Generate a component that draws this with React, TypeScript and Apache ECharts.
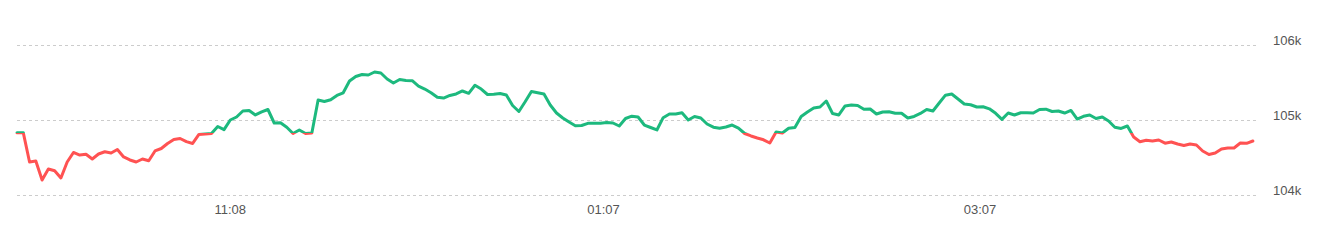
import React, { useEffect, useRef } from "react";
import * as echarts from "echarts";

// Price values, one every 2 minutes starting 10:00 PM
const prices: number[] = [
  104831, 104831, 104440, 104453, 104200, 104347, 104324, 104227, 104440, 104567,
  104533, 104543, 104480, 104547, 104577, 104560, 104607, 104507, 104467, 104440,
  104480, 104457, 104587, 104620, 104687, 104740, 104753, 104711, 104687, 104807,
  104813, 104820, 104913, 104871, 105000, 105040, 105120, 105127, 105067, 105107,
  105140, 104960, 104964, 104903, 104820, 104867, 104820, 104827, 105267, 105247,
  105269, 105327, 105363, 105520, 105580, 105607, 105600, 105640, 105627, 105547,
  105493, 105540, 105527, 105524, 105453, 105413, 105363, 105303, 105293, 105327,
  105347, 105387, 105356, 105463, 105413, 105340, 105343, 105353, 105333, 105193,
  105113, 105243, 105380, 105363, 105347, 105200, 105093, 105027, 104973, 104924,
  104927, 104956, 104956, 104956, 104967, 104960, 104920, 105020, 105051, 105040,
  104933, 104900, 104867, 105031, 105080, 105080, 105096, 105000, 105047, 105027,
  104947, 104904, 104891, 104907, 104933, 104893, 104820, 104787, 104760, 104736,
  104693, 104840, 104827, 104889, 104900, 105047, 105107, 105160, 105173, 105253,
  105087, 105067, 105187, 105200, 105193, 105143, 105147, 105080, 105107, 105111,
  105089, 105089, 105027, 105047, 105087, 105140, 105120, 105227, 105331, 105347,
  105280, 105213, 105203, 105173, 105176, 105149, 105089, 105009, 105093, 105067,
  105097, 105097, 105093, 105140, 105144, 105113, 105120, 105093, 105127, 105013,
  105049, 105067, 105020, 105040, 104987, 104903, 104887, 104920, 104773, 104711,
  104729, 104720, 104733, 104691, 104707, 104680, 104660, 104680, 104667, 104587,
  104540, 104560, 104613, 104627, 104627, 104693, 104689, 104720,
];

const startTime = new Date(2025, 0, 1, 22, 0, 0).getTime();
const stepMinutes = 2;
const spanMinutes = 395;
// minutes after start at which the x labels are shown (11:08, 01:07, 03:07)
const tickMinutes: number[] = [68, 187, 307];
const yTicks: number[] = [104000, 105000, 106000];

const UP = "#1db97e";
const DOWN = "#ff5252";

function fmtTime(minutes: number): string {
  const d = new Date(startTime + minutes * 60000);
  let h = d.getHours() % 12;
  if (h === 0) h = 12;
  const m = d.getMinutes();
  return String(h).padStart(2, "0") + ":" + String(m).padStart(2, "0");
}

export default function App() {
  const ref = useRef<HTMLDivElement>(null);
  useEffect(() => {
    if (!ref.current) return;
    const chart = echarts.init(ref.current, undefined, { renderer: "svg" });
    const base = prices[0];
    const data = prices.map((p, i) => [i * stepMinutes, p]);
    chart.setOption({
      animation: false,
      grid: { left: 17, right: 61, top: 45, bottom: 50 },
      xAxis: {
        type: "value",
        min: 0,
        max: spanMinutes,
        interval: 1,
        axisLine: { show: false },
        axisTick: { show: false },
        splitLine: { show: false },
        axisLabel: {
          formatter: (v: number) => {
            const r = Math.round(v);
            return tickMinutes.indexOf(r) >= 0 ? fmtTime(r) : "";
          },
          color: "#555",
          fontSize: 13,
          fontFamily: "Liberation Sans, Arial, sans-serif",
          margin: 8,
        },
      },
      yAxis: {
        type: "value",
        position: "right",
        min: yTicks[0],
        max: yTicks[yTicks.length - 1],
        interval: 1000,
        axisLine: { show: false },
        axisTick: { show: false },
        splitLine: { lineStyle: { color: "#cccccc", type: [3, 3], width: 1 } },
        axisLabel: {
          formatter: (v: number) => v / 1000 + "k",
          color: "#555",
          fontSize: 13,
          fontFamily: "Liberation Sans, Arial, sans-serif",
          margin: 17,
          verticalAlign: "bottom",
          lineHeight: 9,
        },
      },
      visualMap: {
        show: false,
        type: "piecewise",
        seriesIndex: 0,
        dimension: 1,
        pieces: [
          { gt: 100000, lt: base, color: DOWN },
          { gte: base, lte: 110000, color: UP },
        ],
        outOfRange: { color: UP },
      },
      series: [
        {
          type: "line",
          data,
          symbol: "none",
          lineStyle: { width: 3, join: "round", cap: "round" },
        },
      ],
    });
    return () => chart.dispose();
  }, []);
  return (
    <div
      ref={ref}
      style={{ position: "absolute", left: 0, top: 0, width: 1317, height: 245 }}
    />
  );
}
